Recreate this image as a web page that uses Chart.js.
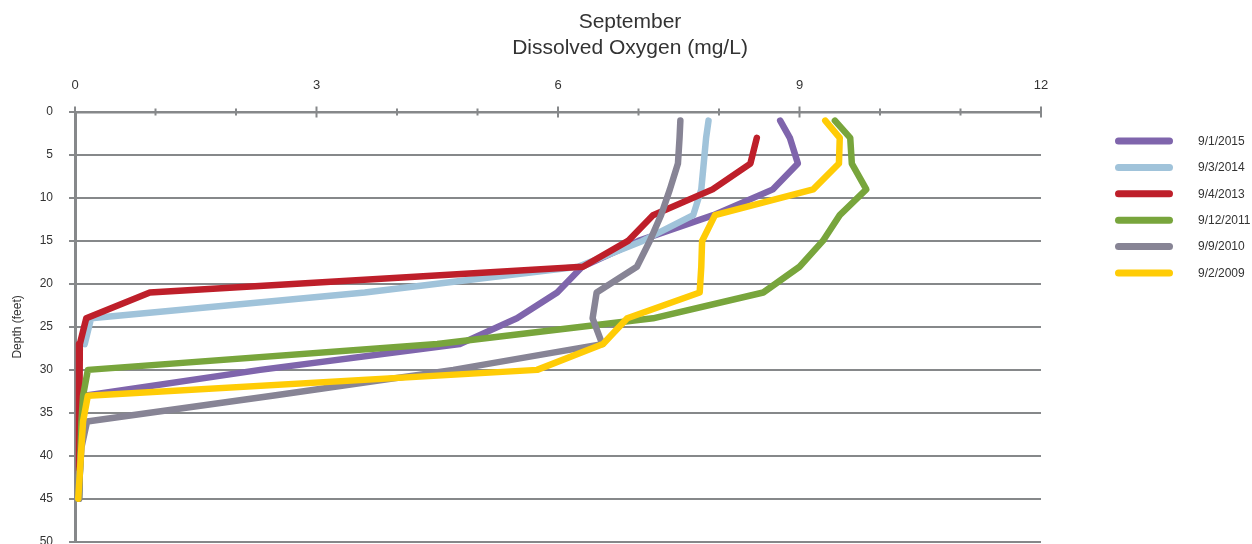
<!DOCTYPE html>
<html><head><meta charset="utf-8">
<script src="https://cdn.jsdelivr.net/npm/chart.js@4.4.1/dist/chart.umd.min.js"></script>
<style>html,body{margin:0;padding:0;background:#fff;overflow:hidden}#wrap{position:relative;width:1252px;height:565px}</style>
</head><body><div id="wrap"><canvas id="c"></canvas></div>
<script>
const chartTitle = ['September', 'Dissolved Oxygen (mg/L)'];
const yTitle = 'Depth (feet)';
const seriesNames = ['9/1/2015', '9/3/2014', '9/4/2013', '9/12/2011', '9/9/2010', '9/2/2009'];
const seriesColors = ['#7F65AC', '#A0C3DA', '#BE1F2A', '#78A53C', '#878495', '#FFCC06'];
const depths = [1, 3, 6, 9, 12, 15, 18, 21, 24, 27, 30, 33, 36, 39, 42, 45];
const do2015 = [8.76, 8.88, 8.98, 8.67, 7.93, 7.0, 6.3, 5.99, 5.49, 4.78, 2.3, 0.12, 0.08, 0.07, 0.06, 0.05];
const do2014 = [7.87, 7.84, 7.81, 7.78, 7.68, 7.05, 6.25, 3.6, 0.2, 0.12, null, null, null, null, null, null];
const do2013 = [null, 8.47, 8.39, 7.92, 7.18, 6.87, 6.31, 0.93, 0.14, 0.06, 0.05, 0.05, 0.05, 0.05, 0.05, null];
const do2011 = [9.44, 9.63, 9.65, 9.83, 9.5, 9.29, 9.0, 8.55, 7.18, 4.5, 0.16, 0.1, 0.08, 0.07, 0.06, 0.05];
const do2010 = [7.52, 7.51, 7.49, 7.39, 7.28, 7.14, 6.98, 6.48, 6.43, 6.55, 4.7, 2.45, 0.15, 0.08, 0.06, 0.05];
const do2009 = [9.32, 9.5, 9.49, 9.17, 7.95, 7.79, 7.78, 7.76, 6.86, 6.56, 5.74, 0.16, 0.1, 0.08, 0.06, 0.04];
const seriesValues = [do2015, do2014, do2013, do2011, do2010, do2009];

const AXIS = '#86888a';
const TEXT = '#333333';

const datasets = seriesNames.map((name, i) => ({
  label: name,
  data: depths.map((d, j) => ({x: seriesValues[i][j], y: d})).filter(p => p.x !== null),
  borderColor: seriesColors[i],
  backgroundColor: seriesColors[i],
  borderWidth: 6.5,
  borderCapStyle: 'round',
  borderJoinStyle: 'round',
  pointRadius: 0,
  pointHoverRadius: 0,
  showLine: true,
  tension: 0,
  order: seriesNames.length - i
}));

const crossTicks = {
  id: 'crossTicks',
  afterDatasetsDraw(chart) {
    const xs = chart.scales.x, ctx = chart.ctx, y0 = chart.chartArea.top;
    ctx.save();
    ctx.strokeStyle = AXIS;
    ctx.lineWidth = 2;
    xs.ticks.forEach(t => {
      const px = xs.getPixelForValue(t.value);
      const h = (t.value % 3 === 0) ? 5.5 : 3.5;
      ctx.beginPath(); ctx.moveTo(px, y0 - h); ctx.lineTo(px, y0 + h); ctx.stroke();
    });
    ctx.restore();
  }
};

const sideLegend = {
  id: 'sideLegend',
  afterDraw(chart) {
    const ctx = chart.ctx;
    const x0 = chart.chartArea.right + 74;
    ctx.save();
    ctx.font = '12px "Liberation Sans", Arial, sans-serif';
    ctx.textBaseline = 'middle';
    ctx.textAlign = 'left';
    chart.data.datasets.forEach((ds, i) => {
      const y = 141 + i * 26.4;
      ctx.strokeStyle = ds.borderColor;
      ctx.lineWidth = 7;
      ctx.lineCap = 'round';
      ctx.beginPath(); ctx.moveTo(x0 + 3.5, y); ctx.lineTo(x0 + 54.5, y); ctx.stroke();
      ctx.fillStyle = TEXT;
      ctx.fillText(ds.label, x0 + 83, y + 0.5);
    });
    ctx.restore();
  }
};

new Chart(document.getElementById('c'), {
  type: 'scatter',
  data: {datasets},
  plugins: [crossTicks, sideLegend],
  options: {
    responsive: true,
    maintainAspectRatio: false,
    animation: false,
    layout: {padding: {left: 8, right: 0, top: 0, bottom: 0}},
    plugins: {
      legend: {display: false},
      tooltip: {enabled: false},
      title: {
        display: true,
        text: chartTitle,
        color: TEXT,
        font: {family: '"Liberation Sans", Arial, sans-serif', size: 21, weight: 'normal', lineHeight: 1.2},
        padding: {top: 10, bottom: 0}
      }
    },
    scales: {
      x: {
        type: 'linear',
        position: 'top',
        min: 0, max: 12,
        afterFit: s => { s.height = 51.6; },
        ticks: {
          stepSize: 1, autoSkip: false, maxRotation: 0, padding: 19.2,
          color: TEXT,
          font: {family: '"Liberation Sans", Arial, sans-serif', size: 13},
          callback: v => (v % 3 === 0 ? String(v) : '')
        },
        grid: {drawOnChartArea: false, drawTicks: false},
        border: {display: true, color: AXIS, width: 2.5}
      },
      y: {
        type: 'linear',
        position: 'left',
        reverse: true,
        min: 0, max: 50,
        afterFit: s => { s.width = 67; },
        ticks: {
          stepSize: 5, padding: 16, color: TEXT,
          font: {family: '"Liberation Sans", Arial, sans-serif', size: 12}
        },
        grid: {color: AXIS, lineWidth: 2, tickLength: 6, drawTicks: true},
        border: {display: true, color: AXIS, width: 3},
        title: {
          display: true, text: yTitle, color: TEXT,
          font: {family: '"Liberation Sans", Arial, sans-serif', size: 12},
          padding: {top: 2, bottom: 0}
        }
      },
      yPad: {
        type: 'linear',
        position: 'right',
        min: 0, max: 50,
        display: true,
        afterFit: s => { s.width = 211; },
        ticks: {display: false},
        grid: {display: false, drawTicks: false},
        border: {display: false}
      }
    }
  }
});
</script>
</body></html>
